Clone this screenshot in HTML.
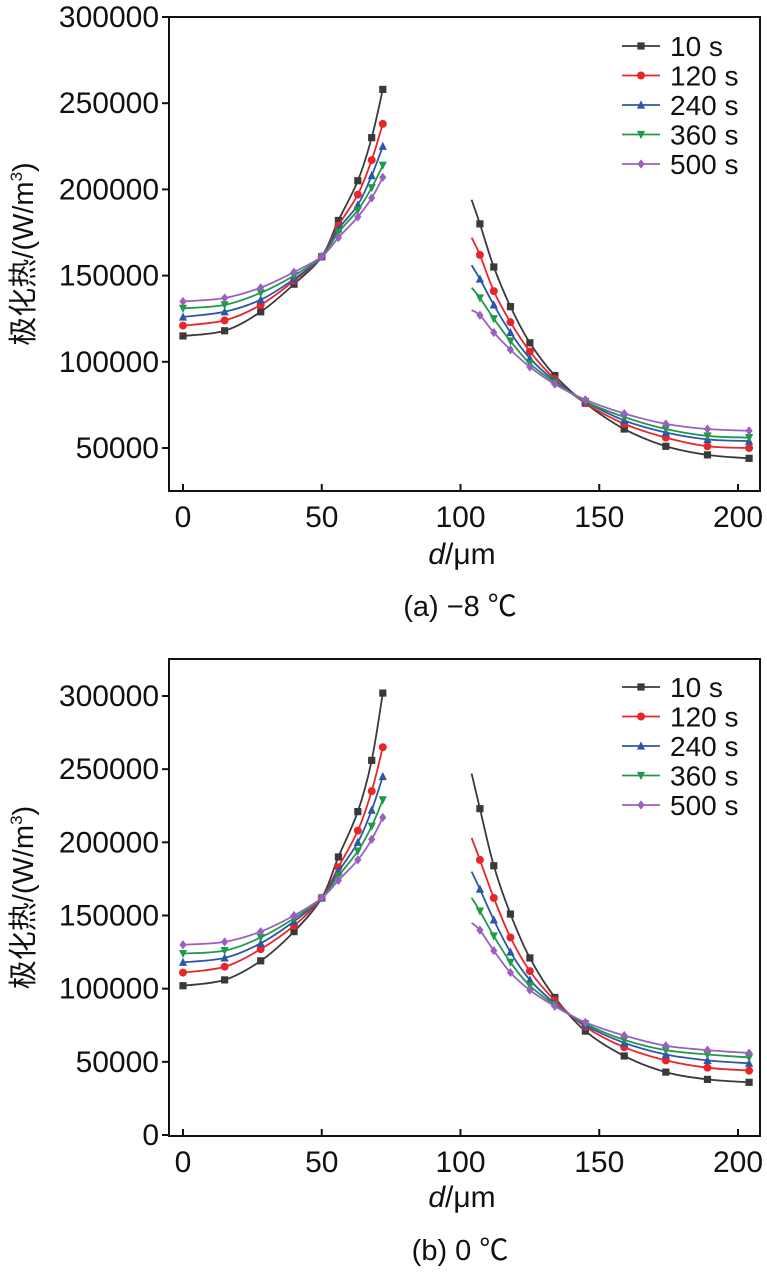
<!DOCTYPE html>
<html><head><meta charset="utf-8"><style>
body{margin:0;background:#fff;}
svg{display:block;font-family:"Liberation Sans","Noto Sans CJK SC",sans-serif;}
</style></head><body>
<svg id="chart" width="767" height="1273" viewBox="0 0 767 1273"></svg>
<script>
const seriesNames = ["10 s","120 s","240 s","360 s","500 s"];
const colors = ["#3a3a3a","#e8262a","#2b57a7","#1f9a48","#9b5fc0"];
const markers = ["square","circle","triangle","tridown","diamond"];
const leftX = [0,15,28,40,50,56,63,68,72];
const rightX = [104,107,112,118,125,134,145,159,174,189,204];
const xTicks = [0,50,100,150,200];
// Panel (a) -8 C values (W/m3)
const aLeft = [
 [115000,118000,129000,145000,161000,182000,205000,230000,258000],
 [121000,124000,133000,147000,161000,179000,197000,217000,238000],
 [126000,129000,136000,148000,161000,177000,191000,208000,225000],
 [131000,133000,140000,150000,161000,175000,188000,201000,214000],
 [135000,137000,143000,152000,161000,172000,184000,195000,207000]];
const aRight = [
 [194000,180000,155000,132000,111000,92000,76000,61000,51000,46000,44000],
 [172000,162000,141000,123000,106000,90000,76000,64000,56000,51000,50000],
 [156000,148000,133000,117000,102000,89000,77000,66000,59000,55000,54000],
 [143000,137000,125000,112000,99000,88000,77000,68000,61000,57000,56000],
 [130000,127000,117000,107000,97000,87000,78000,70000,64000,61000,60000]];
const aYTicks = [50000,100000,150000,200000,250000,300000];
// Panel (b) 0 C values
const bLeft = [
 [102000,106000,119000,139000,162000,190000,221000,256000,302000],
 [111000,115000,127000,143000,162000,183000,208000,235000,265000],
 [118000,121000,131000,146000,162000,180000,200000,222000,245000],
 [124000,126000,135000,148000,162000,177000,194000,211000,229000],
 [130000,132000,139000,150000,162000,174000,188000,202000,217000]];
const bRight = [
 [247000,223000,184000,151000,121000,94000,71000,54000,43000,38000,36000],
 [203000,188000,162000,135000,112000,92000,74000,60000,51000,46000,44000],
 [180000,168000,147000,125000,106000,90000,75000,63000,55000,51000,49000],
 [162000,153000,136000,118000,102000,89000,76000,65000,58000,55000,53000],
 [145000,140000,126000,111000,99000,88000,77000,68000,61000,58000,56000]];
const bYTicks = [0,50000,100000,150000,200000,250000,300000];

const NS="http://www.w3.org/2000/svg";
const svg=document.getElementById('chart');
function mk(tag,attrs,parent){const e=document.createElementNS(NS,tag);for(const k in attrs)e.setAttribute(k,attrs[k]);(parent||svg).appendChild(e);return e;}
function spline(pts){let d="M"+pts[0][0]+","+pts[0][1];for(let i=0;i<pts.length-1;i++){const p0=pts[Math.max(0,i-1)],p1=pts[i],p2=pts[i+1],p3=pts[Math.min(pts.length-1,i+2)];const c1x=p1[0]+(p2[0]-p0[0])/6,c1y=p1[1]+(p2[1]-p0[1])/6,c2x=p2[0]-(p3[0]-p1[0])/6,c2y=p2[1]-(p3[1]-p1[1])/6;d+=` C${c1x},${c1y} ${c2x},${c2y} ${p2[0]},${p2[1]}`;}return d;}
function marker(g,type,x,y,c){let e;const s=3.6;
 if(type==="square")e=mk('rect',{x:x-s,y:y-s,width:2*s,height:2*s,fill:c},g);
 else if(type==="circle")e=mk('circle',{cx:x,cy:y,r:s+0.4,fill:c},g);
 else if(type==="triangle")e=mk('polygon',{points:`${x},${y-s-1} ${x-s-0.5},${y+s} ${x+s+0.5},${y+s}`,fill:c},g);
 else if(type==="tridown")e=mk('polygon',{points:`${x},${y+s+1} ${x-s-0.5},${y-s} ${x+s+0.5},${y-s}`,fill:c},g);
 else e=mk('polygon',{points:`${x},${y-s-1} ${x+s},${y} ${x},${y+s+1} ${x-s},${y}`,fill:c},g);
 
 }

function panel(cfg){
 const {L,R,T,B,v0,y0,v1,y1,left,right,yTicks,legY,caption,capY,xlY,name}=cfg;
 const X=v=>183+(v)*2.775;
 const Y=v=>y0+(v-v0)*(y1-y0)/(v1-v0);
 const g=mk('g',{});
 
 
 for(let s=0;s<seriesNames.length;s++){
  const sg=mk('g',{},g);
  
  
  for(const [xs,ys] of [[leftX,left[s]],[rightX,right[s]]]){
   const pts=xs.map((x,i)=>[X(x),Y(ys[i])]);
   const p=mk('path',{d:spline(pts),fill:'none',stroke:colors[s],'stroke-width':1.8},sg);
   
   
   pts.forEach((pt,i)=>{if(xs===rightX&&i===0)return;marker(sg,markers[s],pt[0],pt[1],colors[s]);});
  }
 }
 const box=mk('rect',{x:L,y:T,width:R-L,height:B-T,fill:'none',stroke:'#111','stroke-width':2},g);
 
 
 yTicks.forEach(v=>{const y=Y(v);mk('line',{x1:L-7,x2:L,y1:y,y2:y,stroke:'#111','stroke-width':2},g);
  const t=mk('text',{x:L-10,y:y+10,'text-anchor':'end','font-size':30,fill:'#111'},g);t.textContent=v;
  
  });
 xTicks.forEach(v=>{const x=X(v);mk('line',{x1:x,x2:x,y1:B-7,y2:B,stroke:'#111','stroke-width':2},g);
  const t=mk('text',{x:x,y:B+36,'text-anchor':'middle','font-size':30,fill:'#111'},g);t.textContent=v;
  
  });
 const xl=mk('text',{x:462,y:xlY,'text-anchor':'middle','font-size':30,fill:'#111'},g);
 xl.innerHTML='<tspan font-style="italic">d</tspan>/μm';
 
 
 const cy=(T+B)/2;
 const yl=mk('text',{x:0,y:0,'text-anchor':'middle','font-size':29,fill:'#111',transform:`translate(33,${cy}) rotate(-90)`},g);
 yl.innerHTML='极化热/(W/m<tspan dy="-11" font-size="17">3</tspan><tspan dy="11">)</tspan>';
 
 
 const cap=mk('text',{x:460,y:capY,'text-anchor':'middle','font-size':29,fill:'#111'},g);
 cap.textContent=caption;
 
 
 seriesNames.forEach((n,i)=>{const y=legY+i*29.5;const lg=mk('g',{},g);
  
  
  mk('line',{x1:622,x2:660,y1:y,y2:y,stroke:colors[i],'stroke-width':1.8},lg);
  marker(lg,markers[i],641,y,colors[i]);
  const t=mk('text',{x:670,y:y+10,'font-size':28,fill:'#111'},lg);t.textContent=n;});
}
panel({name:'panel-a',L:169,R:760,T:17,B:491,v0:300000,y0:17,v1:50000,y1:448,left:aLeft,right:aRight,yTicks:aYTicks,legY:46,caption:'(a) −8 ℃',capY:616,xlY:564});
panel({name:'panel-b',L:169,R:760,T:659,B:1136,v0:300000,y0:696,v1:0,y1:1135,left:bLeft,right:bRight,yTicks:bYTicks,legY:687,caption:'(b) 0 ℃',capY:1260,xlY:1207});
</script>
</body></html>
